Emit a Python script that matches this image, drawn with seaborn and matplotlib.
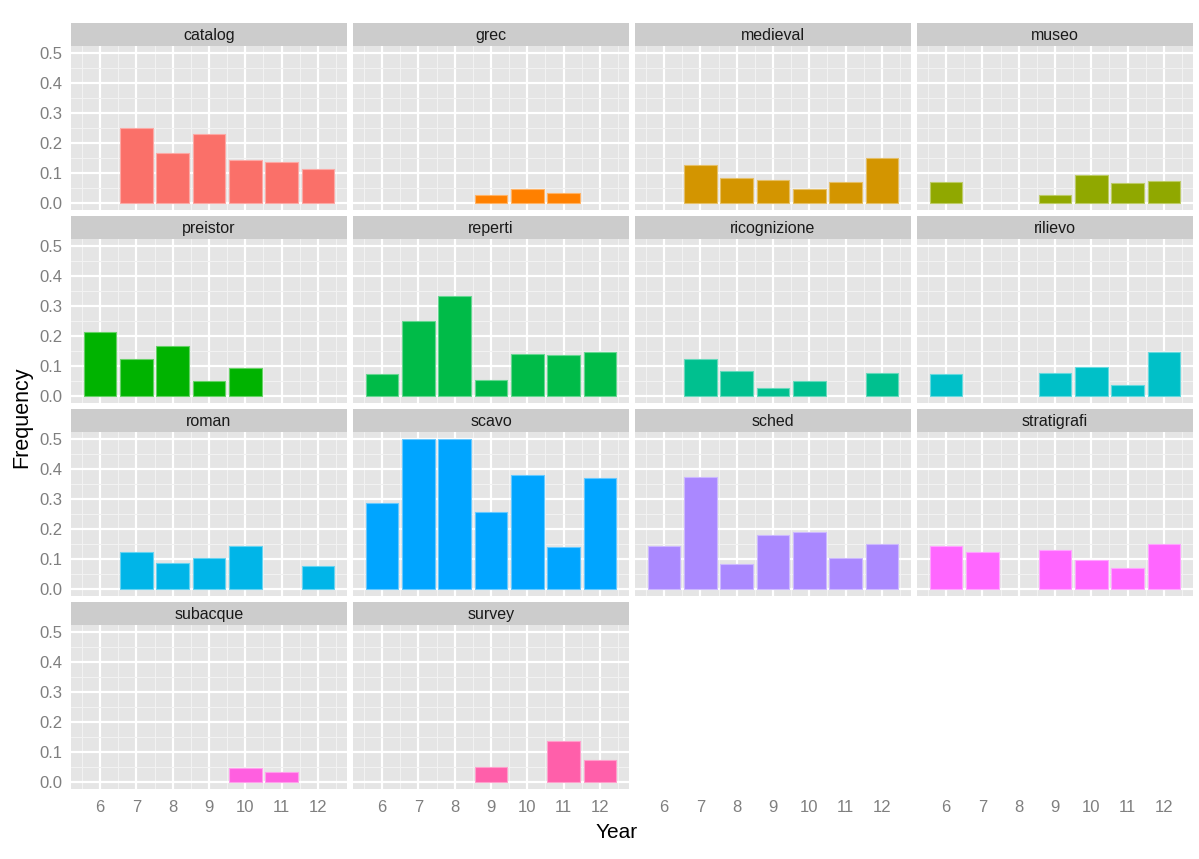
import numpy as np
import pandas as pd
import matplotlib
matplotlib.use("Agg")
import matplotlib.pyplot as plt
from matplotlib.ticker import MultipleLocator
import matplotlib.colors as mcolors
import seaborn as sns

# ---------------- data ----------------
years = [6, 7, 8, 9, 10, 11, 12]
categories = ["catalog", "grec", "medieval", "museo",
              "preistor", "reperti", "ricognizione", "rilievo",
              "roman", "scavo", "sched", "stratigrafi",
              "subacque", "survey"]
nan = np.nan
catalog      = [nan, 0.250, 0.167, 0.231, 0.143, 0.136, 0.111]
grec         = [nan, nan, nan, 0.024, 0.045, 0.033, nan]
medieval     = [nan, 0.125, 0.083, 0.075, 0.045, 0.068, 0.148]
museo        = [0.069, nan, nan, 0.024, 0.093, 0.067, 0.073]
preistor     = [0.213, 0.123, 0.165, 0.050, 0.094, nan, nan]
reperti      = [0.071, 0.249, 0.333, 0.051, 0.141, 0.136, 0.146]
ricognizione = [nan, 0.124, 0.083, 0.024, 0.048, nan, 0.074]
rilievo      = [0.071, nan, nan, 0.077, 0.095, 0.034, 0.147]
roman        = [nan, 0.124, 0.084, 0.103, 0.144, nan, 0.075]
scavo        = [0.286, 0.500, 0.500, 0.257, 0.381, 0.139, 0.370]
sched        = [0.143, 0.374, 0.083, 0.180, 0.190, 0.103, 0.148]
stratigrafi  = [0.143, 0.124, nan, 0.128, 0.095, 0.068, 0.148]
subacque     = [nan, nan, nan, nan, 0.045, 0.033, nan]
survey       = [nan, nan, nan, 0.050, nan, 0.137, 0.072]
series = [catalog, grec, medieval, museo, preistor, reperti, ricognizione,
          rilievo, roman, scavo, sched, stratigrafi, subacque, survey]
palette = ["#FA7069", "#FF8000", "#D39500", "#90A800", "#00B300", "#00BB48",
           "#00C08F", "#00C0C8", "#00B5E8", "#00A5FF", "#AA88FF", "#FF66FF",
           "#FF5FE0", "#FF5FAA"]

rows = []
for cat, vals in zip(categories, series):
    for y, v in zip(years, vals):
        if not np.isnan(v):
            rows.append({"category": cat, "Year": y, "Frequency": v})
df = pd.DataFrame(rows)

# ---------------- style ----------------
sns.set_style("white")
plt.rcParams["font.family"] = ["Liberation Sans", "DejaVu Sans"]

W, H = 1199, 859
fig = plt.figure(figsize=(W / 100, H / 100), dpi=100)

col_left = [71, 353, 635, 917]
panel_w = 276
row_strip_top = [23, 216, 409, 602]
strip_h = 23
panel_h = 164

def px_axes(left, top, w, h):
    return fig.add_axes([left / W, 1 - (top + h) / H, w / W, h / H])

tick_grey = "#7F7F7F"

def style_panel(ax, show_x, show_y):
    ax.set_facecolor("#E5E5E5")
    for s in ax.spines.values():
        s.set_visible(False)
    ax.set_xlim(5.2, 12.8)
    ax.set_ylim(-0.025, 0.525)
    ax.xaxis.set_major_locator(MultipleLocator(1))
    ax.xaxis.set_minor_locator(MultipleLocator(0.5))
    ax.yaxis.set_major_locator(MultipleLocator(0.1))
    ax.yaxis.set_minor_locator(MultipleLocator(0.05))
    ax.grid(which="minor", color="#F2F2F2", linewidth=0.8)
    ax.grid(which="major", color="white", linewidth=1.6)
    ax.set_axisbelow(True)
    ax.tick_params(which="minor", length=0)
    ax.tick_params(which="major", length=4, width=0.9, color=tick_grey,
                   labelcolor=tick_grey, labelsize=12, pad=2)
    ax.tick_params(axis="x", pad=4)
    ax.set_xticks(years)
    ax.set_xticklabels([str(y) for y in years] if show_x else [])
    if not show_x:
        ax.tick_params(axis="x", length=0)
    ax.set_yticks([0.0, 0.1, 0.2, 0.3, 0.4, 0.5])
    ax.set_yticklabels(["0.0", "0.1", "0.2", "0.3", "0.4", "0.5"] if show_y else [])
    if not show_y:
        ax.tick_params(axis="y", length=0)
    ax.set_xlabel("")
    ax.set_ylabel("")

n = len(categories)
for i, (cat, color) in enumerate(zip(categories, palette)):
    r, c = divmod(i, 4)
    left = col_left[c]
    stop = row_strip_top[r]
    ax = px_axes(left, stop + strip_h, panel_w, panel_h)
    sub = df[df["category"] == cat]
    edge = tuple(0.6 * np.array(mcolors.to_rgb(color)) + 0.4)
    sns.barplot(data=sub, x="Year", y="Frequency", native_scale=True,
                color=color, saturation=1, width=0.9, errorbar=None,
                edgecolor=edge, linewidth=0.8, ax=ax)
    last_in_col = (i + 4 >= n)
    style_panel(ax, show_x=last_in_col and r == 3, show_y=(c == 0))
    # strip
    sax = px_axes(left, stop, panel_w, strip_h)
    sax.set_facecolor("#CCCCCC")
    for s in sax.spines.values():
        s.set_visible(False)
    sax.set_xticks([])
    sax.set_yticks([])
    sax.text(0.5, 0.45, cat, ha="center", va="center", fontsize=11.5,
             color="#1A1A1A", transform=sax.transAxes)

# x axes for empty positions in columns 3 and 4
for c in (2, 3):
    ax = px_axes(col_left[c], row_strip_top[3] + strip_h, panel_w, panel_h)
    ax.set_xlim(5.2, 12.8)
    ax.set_ylim(0, 1)
    ax.set_facecolor("none")
    for s in ax.spines.values():
        s.set_visible(False)
    ax.set_yticks([])
    ax.set_xticks(years)
    ax.set_xticklabels([str(y) for y in years])
    ax.tick_params(axis="x", length=4, width=0.9, color=tick_grey,
                   labelcolor=tick_grey, labelsize=12, pad=4)

fig.text(617 / W, 1 - 832 / H, "Year", ha="center", va="center",
         fontsize=15, color="black")
fig.text(22 / W, 1 - 417 / H, "Frequency", ha="center", va="center",
         fontsize=15.5, color="black", rotation=90)

fig.savefig("out.png", dpi=100)
